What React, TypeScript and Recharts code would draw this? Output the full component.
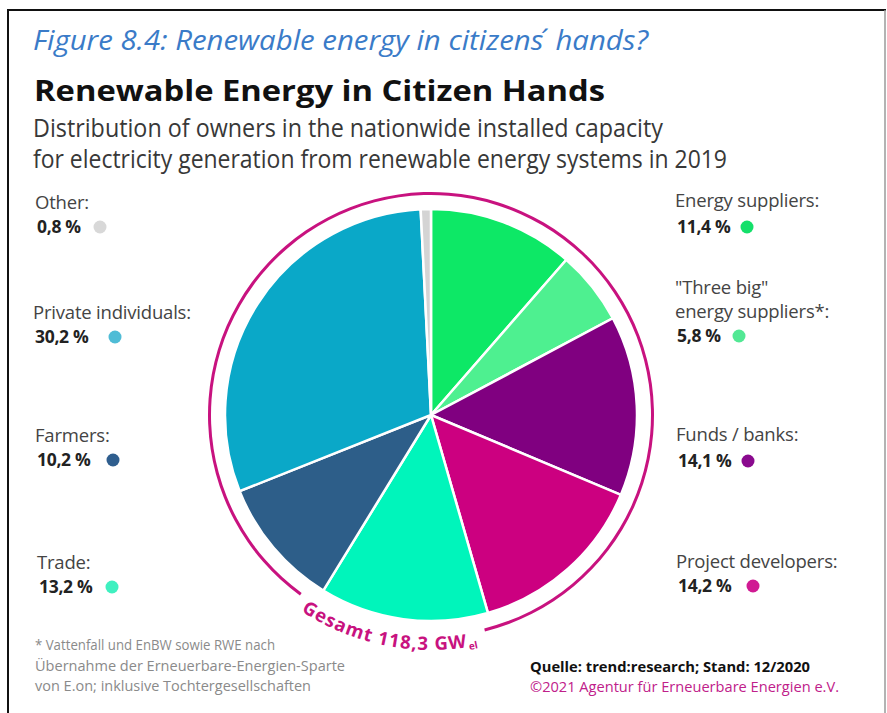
import React from "react";
import { PieChart, Pie, Cell } from "recharts";

// owners, clockwise from 12 o'clock
const owners = [
  "Energy suppliers",
  "\"Three big\" energy suppliers*",
  "Funds / banks",
  "Project developers",
  "Trade",
  "Farmers",
  "Private individuals",
  "Other",
];
const shares = [11.4, 5.8, 14.1, 14.2, 13.2, 10.2, 30.2, 0.8];
const shareLabels = ["11,4 %", "5,8 %", "14,1 %", "14,2 %", "13,2 %", "10,2 %", "30,2 %", "0,8 %"];
const sliceColors = ["#0de866", "#4ef090", "#800080", "#cc0080", "#00f5bb", "#2d5e89", "#0aa8c8", "#d4d4d4"];
const dotColors = ["#14e06a", "#52e894", "#8a0a8e", "#d01a93", "#3ff0c0", "#2f5e8e", "#4fbcd6", "#d8d8d8"];

// ring around the pie: drawn part and opening for the total label (degrees)
const ringParts = [
  { name: "ring", value: 310 },
  { name: "gap", value: 50 },
];
const totalLabel = "Gesamt 118,3 GW";

const pieData = owners.map((name, i) => ({ name, value: shares[i] }));

// label placement, indexed like owners
const labelLayout = [
  { x: 675, lines: ["Energy suppliers:"], y: 207, vy: 233, dx: 747 },
  { x: 675, lines: ["\"Three big\"", "energy suppliers*:"], y: 294, vy: 342, dx: 739 },
  { x: 676, lines: ["Funds / banks:"], y: 441, vy: 467, dx: 748 },
  { x: 676, lines: ["Project developers:"], y: 568, vy: 592, dx: 753 },
  { x: 37, lines: ["Trade:"], y: 569, vy: 593, dx: 112 },
  { x: 35, lines: ["Farmers:"], y: 442, vy: 466, dx: 113 },
  { x: 33, lines: ["Private individuals:"], y: 319, vy: 343, dx: 115 },
  { x: 35, lines: ["Other:"], y: 209, vy: 233, dx: 100 },
];

const W = 887;
const H = 713;
const CX = 431;
const CY = 415;
const R = 206;
const font = "'Open Sans', 'Noto Sans', sans-serif";

const arcPoint = (deg: number, r: number) => {
  const a = (deg * Math.PI) / 180;
  return [CX + r * Math.cos(a), CY - r * Math.sin(a)];
};

const App = () => {
  const [sx, sy] = arcPoint(235, 235);
  const [ex, ey] = arcPoint(284, 235);
  const textArc = `M ${sx} ${sy} A 235 235 0 0 0 ${ex} ${ey}`;

  return (
    <div style={{ position: "absolute", left: 0, top: 0, width: W, height: H, background: "#fff" }}>
      <div style={{ position: "absolute", left: 0, top: 0 }}>
        <PieChart width={W} height={H} margin={{ top: 0, right: 0, bottom: 0, left: 0 }}>
          <Pie
            data={ringParts}
            dataKey="value"
            cx={CX}
            cy={CY}
            innerRadius={220}
            outerRadius={223}
            startAngle={-76}
            endAngle={284}
            stroke="none"
            isAnimationActive={false}
          >
            <Cell fill="#c8127f" />
            <Cell fill="transparent" />
          </Pie>
          <Pie
            data={pieData}
            dataKey="value"
            cx={CX}
            cy={CY}
            outerRadius={R}
            startAngle={90}
            endAngle={-270}
            stroke="#fff"
            strokeWidth={2.5}
            isAnimationActive={false}
          >
            {pieData.map((d, i) => (
              <Cell key={d.name} fill={sliceColors[i]} />
            ))}
          </Pie>
        </PieChart>
      </div>
      <svg
        width={W}
        height={H}
        style={{ position: "absolute", left: 0, top: 0, pointerEvents: "none" }}
        fontFamily={font}
      >
        {/* frame */}
        <line x1={8} y1={10} x2={886} y2={10} stroke="#111" strokeWidth={2} />
        <line x1={8} y1={9} x2={8} y2={713} stroke="#111" strokeWidth={2} />
        <line x1={885} y1={10} x2={885} y2={713} stroke="#9a9a9a" strokeWidth={1.5} />

        <text x={33} y={50} fill="#3a7bc8" fontSize={27} fontStyle="italic" textLength={615} lengthAdjust="spacingAndGlyphs">
          Figure 8.4: Renewable energy in citizens<tspan dx={4}>´</tspan> hands?
        </text>
        <text x={34} y={101} fill="#111" fontSize={29} fontWeight={700} textLength={571} lengthAdjust="spacingAndGlyphs">
          Renewable Energy in Citizen Hands
        </text>
        <text x={33} y={137} fill="#383838" fontSize={25} textLength={630} lengthAdjust="spacingAndGlyphs">
          Distribution of owners in the nationwide installed capacity
        </text>
        <text x={33} y={168} fill="#383838" fontSize={25} textLength={694} lengthAdjust="spacingAndGlyphs">
          for electricity generation from renewable energy systems in 2019
        </text>

        {labelLayout.map((l, i) => (
          <g key={owners[i]}>
            {l.lines.map((line, j) => (
              <text key={j} x={l.x} y={l.y + j * 24} fill="#444" fontSize={18.5} letterSpacing={-0.2}>
                {line}
              </text>
            ))}
            <text x={l.x + 2} y={l.vy} fill="#222" fontSize={17.5} fontWeight={700} letterSpacing={-0.3}>
              {shareLabels[i]}
            </text>
            <circle cx={l.dx} cy={l.vy - 6} r={6.5} fill={dotColors[i]} />
          </g>
        ))}

        <path id="totalArc" d={textArc} fill="none" />
        <text fill="#c8127f" fontSize={18.5} fontWeight={700} letterSpacing={1}>
          <textPath href="#totalArc" startOffset={6}>
            {totalLabel}
            <tspan fontSize={10} dx={1} dy={3} letterSpacing={0}>el</tspan>
          </textPath>
        </text>

        <g fill="#8a8a8a" fontSize={14}>
          <text x={35} y={650} textLength={240} lengthAdjust="spacingAndGlyphs">* Vattenfall und EnBW sowie RWE nach</text>
          <text x={35} y={671} textLength={310} lengthAdjust="spacingAndGlyphs">Übernahme der Erneuerbare-Energien-Sparte</text>
          <text x={35} y={691} textLength={276} lengthAdjust="spacingAndGlyphs">von E.on; inklusive Tochtergesellschaften</text>
        </g>
        <text x={530} y={672} fill="#111" fontSize={15} fontWeight={700} textLength={280} lengthAdjust="spacingAndGlyphs">
          Quelle: trend:research; Stand: 12/2020
        </text>
        <text x={530} y={692} fill="#c0208a" fontSize={15} textLength={309} lengthAdjust="spacingAndGlyphs">
          ©2021 Agentur für Erneuerbare Energien e.V.
        </text>
      </svg>
    </div>
  );
};

export default App;
